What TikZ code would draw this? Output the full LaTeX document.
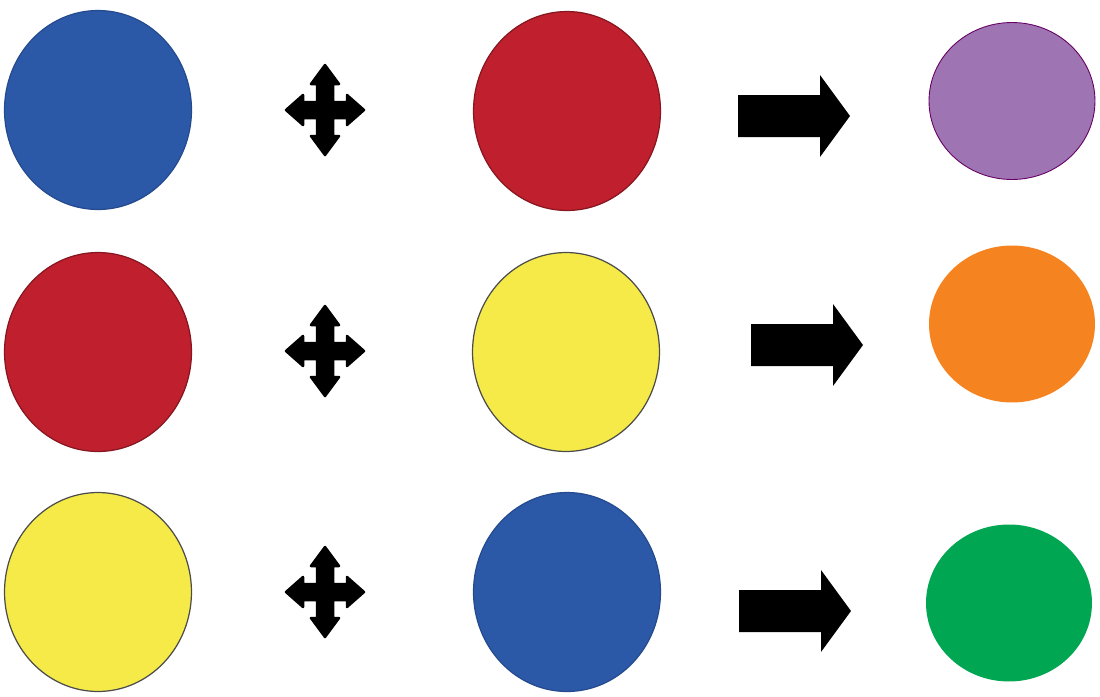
\documentclass[tikz,border=0pt]{standalone}
\usepackage{tikz}
\usetikzlibrary{shapes.geometric}
\definecolor{dotblue}{RGB}{44,88,168}
\definecolor{dotred}{RGB}{192,32,45}
\definecolor{dotyellow}{RGB}{245,234,72}
\definecolor{dotpurple}{RGB}{158,117,178}
\definecolor{dotorange}{RGB}{245,131,32}
\definecolor{dotgreen}{RGB}{0,166,81}

\begin{document}
\begin{tikzpicture}[x=0.02cm, y=-0.02cm,
  dot/.style={ellipse, inner sep=0pt, minimum width=3.74cm, minimum height=3.98cm, line width=0.7pt},
  mixdot/.style={ellipse, inner sep=0pt, minimum width=3.32cm, minimum height=3.14cm, line width=0.5pt},
  mixsign/.pic={
    \filldraw[black, line width=0.05cm, line join=round]
      (8,8) -- (22,8) -- (22,15) -- (39,0) -- (22,-15) -- (22,-8)
      -- (8,-8) -- (8,-26) -- (14,-26) -- (0,-45) -- (-14,-26) -- (-8,-26)
      -- (-8,-8) -- (-22,-8) -- (-22,-15) -- (-39,0) -- (-22,15) -- (-22,8)
      -- (-8,8) -- (-8,26) -- (-14,26) -- (0,45) -- (14,26) -- (8,26) -- cycle;
  },
  yieldarrow/.pic={
    \fill[black] (0,-21) -- (82,-21) -- (82,-41) -- (112,0) -- (82,41)
      -- (82,21) -- (0,21) -- cycle;
  }]
\useasboundingbox (0,0) rectangle (1100,697);

% first colours
\node[dot, fill=dotblue, draw=dotblue!85!black] (b1) at (98,110) {};
\node[dot, fill=dotred, draw=dotred!70!black] (r2) at (98,352) {};
\node[dot, fill=dotyellow, draw=black!70] (y3) at (98,592) {};

% second colours
\node[dot, fill=dotred, draw=dotred!70!black] (r1) at (567,111) {};
\node[dot, fill=dotyellow, draw=black!70] (y2) at (566,352) {};
\node[dot, fill=dotblue, draw=dotblue!85!black] (b3) at (567,592) {};

% results
\node[mixdot, fill=dotpurple, draw=violet!80!black] (p1) at (1012,101) {};
\node[mixdot, fill=dotorange] (o2) at (1012,324) {};
\node[mixdot, fill=dotgreen] (g3) at (1009,603) {};

% signs
\coordinate (s1) at (325,110);
\coordinate (s2) at (325,351);
\coordinate (s3) at (325,592);
\pic at (s1) {mixsign};
\pic at (s2) {mixsign};
\pic at (s3) {mixsign};

\coordinate (a1) at (738,116);
\coordinate (a2) at (751,345);
\coordinate (a3) at (739,611);
\pic at (a1) {yieldarrow};
\pic at (a2) {yieldarrow};
\pic at (a3) {yieldarrow};
\end{tikzpicture}
\end{document}
